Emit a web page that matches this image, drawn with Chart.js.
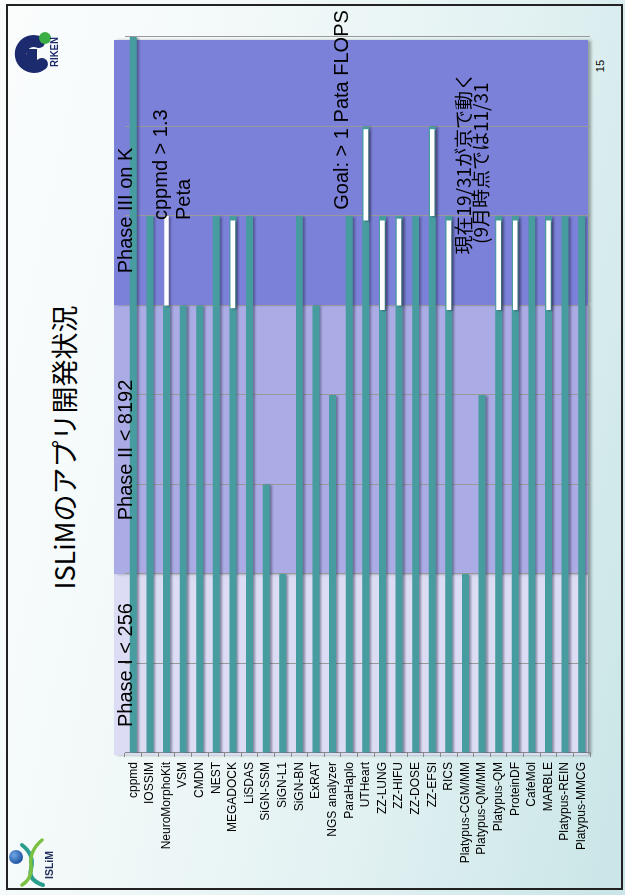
<!DOCTYPE html>
<html>
<head>
<meta charset="utf-8">
<script src="https://cdn.jsdelivr.net/npm/chart.js@4/dist/chart.umd.min.js"></script>
<style>
  html, body { margin: 0; padding: 0; width: 625px; height: 895px; overflow: hidden; background: #fff; }
  /* the slide is laid out in landscape and turned a quarter turn to stand upright */
  #slide {
    position: absolute; left: 0; top: 0; width: 895px; height: 625px;
    transform-origin: 0 0; transform: translateY(895px) rotate(-90deg);
    background: linear-gradient(192deg, #fbfdfd 0%, #f3f9f9 30%, #e2f1f2 65%, #c9e5e7 100%);
    overflow: hidden;
  }
  #frame { position: absolute; left: 5px; top: 6px; width: 882px; height: 613px; border: 2px solid #222; }
  #chart { position: absolute; left: 0; top: 0; }
  #title {
    position: absolute; left: 0; top: 50px; width: 895px; text-align: center;
    font: 27px/27px "Noto Sans CJK JP", sans-serif; color: #000; white-space: nowrap;
  }
  #page { position: absolute; left: 819px; top: 595px; width: 20px; text-align: center;
    font: 11px/11px "Liberation Sans", Arial, sans-serif; color: #000; }
  #logos { position: absolute; left: 0; top: 0; width: 625px; height: 895px; pointer-events: none; }
</style>
</head>
<body>
<div id="slide">
  <div id="frame"></div>
  <div id="title">ISLiMのアプリ開発状況</div>
  <div id="page">15</div>
  <canvas id="chart" width="895" height="625"></canvas>
</div>
<svg id="logos" width="625" height="895" viewBox="0 0 625 895">
  <!-- RIKEN mark -->
  <path d="M39 42 A13 13 0 1 0 42 64" fill="none" stroke="#1c2a6e" stroke-width="12" stroke-linecap="round"/>
  <rect x="27" y="49" width="10" height="12" fill="#1c2a6e"/>
  <circle cx="45" cy="38" r="6" fill="#3aae45"/>
  <text x="0" y="0" transform="translate(58 52) rotate(-90)" text-anchor="middle" textLength="30" lengthAdjust="spacingAndGlyphs"
        font-family="Liberation Sans, Arial" font-weight="bold" font-size="11" fill="#1c2a6e">RIKEN</text>
  <!-- ISLiM mark -->
  <defs>
    <radialGradient id="ball" cx="0.35" cy="0.35" r="0.7">
      <stop offset="0" stop-color="#6fa8e6"/><stop offset="1" stop-color="#1b4f9c"/>
    </radialGradient>
  </defs>
  <path d="M22 845 Q35 855 31 869 Q28 880 43 885" fill="none" stroke="#2a9d8f" stroke-width="4" stroke-linecap="round"/>
  <path d="M42 840 Q29 851 31 866 Q32 879 22 885" fill="none" stroke="#7ac043" stroke-width="3.5" stroke-linecap="round"/>
  <circle cx="16" cy="857" r="7" fill="url(#ball)"/>
  <text x="0" y="0" transform="translate(53 865) rotate(-90)" text-anchor="middle"
        font-family="Liberation Sans, Arial" font-weight="bold" font-size="10.5" fill="#22305e">ISLiM</text>
</svg>

<script>
// ---- data ----
const categories = [
  'cppmd', 'IOSSIM', 'NeuroMorphoKit', 'VSM', 'CMDN', 'NEST', 'MEGADOCK', 'LiSDAS',
  'SiGN-SSM', 'SiGN-L1', 'SiGN-BN', 'ExRAT', 'NGS analyzer', 'ParaHaplo', 'UTHeart',
  'ZZ-LUNG', 'ZZ-HIFU', 'ZZ-DOSE', 'ZZ-EFSI', 'RICS', 'Platypus-CGM/MM', 'Platypus-QM/MM',
  'Platypus-QM', 'ProteinDF', 'CafeMol', 'MARBLE', 'Platypus-REIN', 'Platypus-MMCG'
];
// level reached by each application
const reachedLevel = [8, 6, 5, 5, 5, 6, 6, 6, 3, 2, 6, 5, 4, 6, 7, 6, 6, 6, 7, 6, 2, 4, 6, 6, 6, 6, 6, 6];
// step currently in progress (floating segment), null where none
const inProgress = [
  null, null, [5, 6], null, null, null, [4.97, 5.95], null, null, null, null, null, null, null,
  [5.95, 6.97], [4.95, 5.95], [5, 5.97], null, [6, 6.97], [4.95, 5.95], null, null,
  [4.95, 5.95], [4.95, 5.95], null, [4.95, 5.95], null, null
];
const phaseEdges = [0, 2, 5, 8];
const phaseLabels = ['Phase I < 256', 'Phase II < 8192', 'Phase III on K'];
const noteTexts = [
  ['cppmd > 1.3', 'Peta'],
  ['Goal: > 1 Pata FLOPS'],
  ['現在19/31が京で動く', '(9月時点では11/31']
];

// ---- layout / style ----
const phaseColors = ['#dcdcf4', '#ababe5', '#7b80d9'];
const phaseLabelAt = [0.29, 2.6, 5.36];
const noteLayout = [
  { at: 5.955, align: 'left', base: [42, 65], font: '20px "Liberation Sans", Arial, sans-serif' },
  { at: 6.07, align: 'left', base: [223], font: '20px "Liberation Sans", Arial, sans-serif' },
  { at: 6.59, align: 'center', base: [346, 363], font: '19px "Noto Sans CJK JP", sans-serif' }
];

const phaseBands = {
  id: 'phaseBands',
  beforeDraw(chart) {
    const { ctx, chartArea, scales: { x } } = chart;
    const top = chartArea.top - 11, bottom = chartArea.bottom - 2;
    ctx.save();
    ctx.shadowColor = 'rgba(0,0,0,0.35)';
    ctx.shadowOffsetY = 3;
    ctx.shadowBlur = 3;
    for (let i = 0; i < phaseLabels.length; i++) {
      let x0 = x.getPixelForValue(phaseEdges[i]);
      let x1 = x.getPixelForValue(phaseEdges[i + 1]);
      if (i === 0) x0 -= 2;
      if (i === phaseLabels.length - 1) x1 -= 3;
      ctx.fillStyle = phaseColors[i];
      ctx.fillRect(x0, top, x1 - x0, bottom - top);
    }
    ctx.restore();
  }
};

const barShadow = {
  id: 'barShadow',
  beforeDatasetDraw(chart) {
    const ctx = chart.ctx;
    ctx.save();
    ctx.shadowColor = 'rgba(40,40,70,0.45)';
    ctx.shadowOffsetX = -1;
    ctx.shadowOffsetY = 2;
    ctx.shadowBlur = 2;
  },
  afterDatasetDraw(chart) {
    chart.ctx.restore();
  }
};

const notes = {
  id: 'notes',
  afterDatasetsDraw(chart) {
    const { ctx, chartArea, scales: { x } } = chart;
    ctx.save();
    ctx.fillStyle = '#000';
    ctx.textBaseline = 'alphabetic';
    ctx.font = '20px "Liberation Sans", Arial, sans-serif';
    ctx.textAlign = 'left';
    phaseLabels.forEach((t, i) => {
      ctx.fillText(t, x.getPixelForValue(phaseLabelAt[i]), chartArea.top + 7);
    });
    noteTexts.forEach((lines, i) => {
      const n = noteLayout[i];
      ctx.font = n.font;
      ctx.textAlign = n.align;
      lines.forEach((t, j) => {
        ctx.fillText(t, x.getPixelForValue(n.at), chartArea.top + n.base[j]);
      });
    });
    ctx.restore();
  }
};

new Chart(document.getElementById('chart'), {
  type: 'bar',
  data: {
    labels: categories,
    datasets: [
      {
        data: reachedLevel,
        backgroundColor: '#469c9e',
        barPercentage: 0.42,
        categoryPercentage: 1,
        grouped: false,
        order: 1
      },
      {
        data: inProgress,
        backgroundColor: '#ffffff',
        barPercentage: 0.28,
        categoryPercentage: 1,
        grouped: false,
        order: 0
      }
    ]
  },
  options: {
    indexAxis: 'y',
    responsive: false,
    animation: false,
    events: [],
    layout: { padding: { left: 0, right: 37, top: 125, bottom: 35 } },
    plugins: { legend: { display: false }, tooltip: { enabled: false } },
    scales: {
      x: {
        min: 0, max: 8,
        ticks: { display: false, stepSize: 1 },
        grid: { color: '#999999', lineWidth: 1, drawTicks: false },
        border: { display: false },
        afterFit(s) { s.height = 0; }
      },
      y: {
        ticks: {
          autoSkip: false, padding: 5, color: '#000',
          font: { family: '"Liberation Sans", Arial, sans-serif', size: 12 }
        },
        grid: { drawOnChartArea: false, offset: true, tickLength: 4, color: '#8a8a8a' },
        border: { display: true, color: '#8a8a8a' },
        afterFit(s) { s.width = 142; }
      }
    }
  },
  plugins: [phaseBands, barShadow, notes]
});
</script>
</body>
</html>
